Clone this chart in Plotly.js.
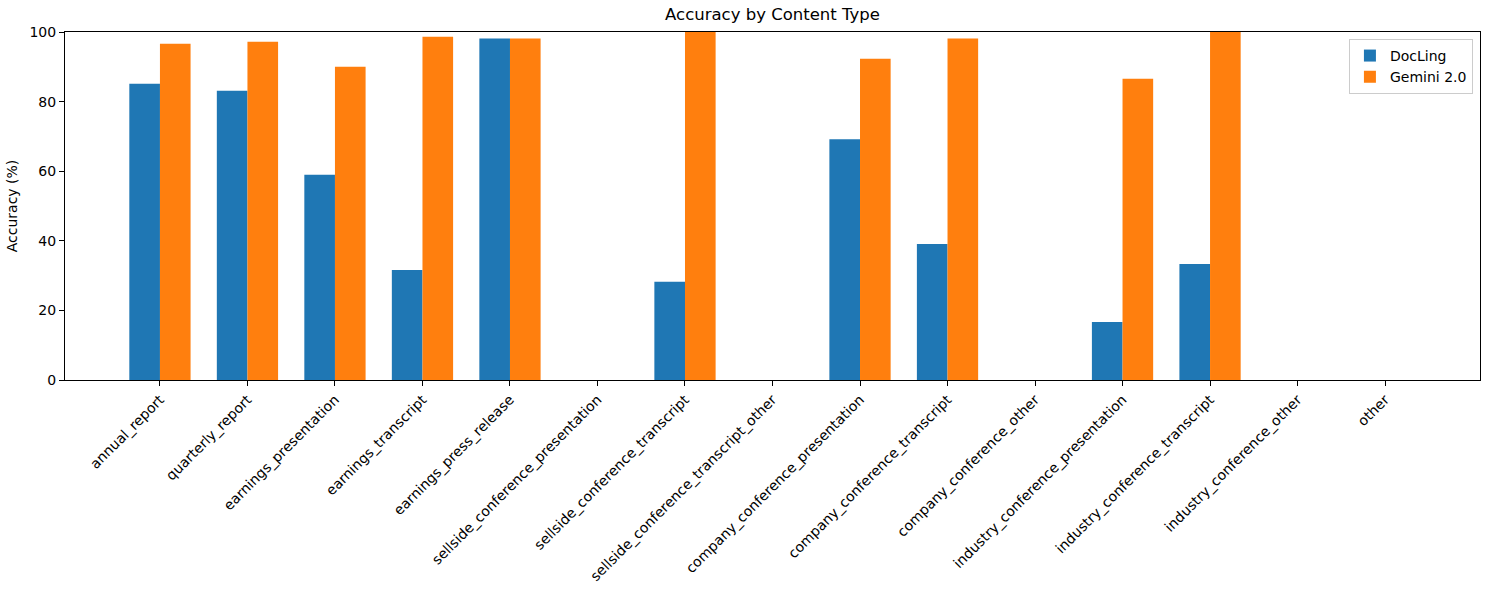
<!DOCTYPE html>
<html>
<head>
<meta charset="utf-8">
<script src="https://cdn.plot.ly/plotly-3.0.1.min.js"></script>
<style>
  html, body { margin: 0; padding: 0; background: #fff; }
  #chart { width: 1490px; height: 590px; }
</style>
</head>
<body>
<div id="chart"></div>
<script>
var contentTypes = [
  'annual_report', 'quarterly_report', 'earnings_presentation', 'earnings_transcript',
  'earnings_press_release', 'sellside_conference_presentation', 'sellside_conference_transcript',
  'sellside_conference_transcript_other', 'company_conference_presentation',
  'company_conference_transcript', 'company_conference_other', 'industry_conference_presentation',
  'industry_conference_transcript', 'industry_conference_other', 'other'
];
var doclingAcc = [85.1, 83.1, 59.0, 31.6, 98.1, 0, 28.2, 0, 69.2, 39.1, 0, 16.7, 33.3, 0, 0];
var geminiAcc = [96.6, 97.2, 90.0, 98.6, 98.1, 0, 100, 0, 92.3, 98.1, 0, 86.6, 100, 0, 0];

var data = [
  {
    x: contentTypes,
    y: doclingAcc,
    name: 'DocLing',
    type: 'bar',
    marker: { color: '#1f77b4', line: { width: 0 } }
  },
  {
    x: contentTypes,
    y: geminiAcc,
    name: 'Gemini 2.0',
    type: 'bar',
    marker: { color: '#ff7f0e', line: { width: 0 } }
  }
];

var layout = {
  width: 1490,
  height: 590,
  margin: { l: 65, r: 10, t: 32, b: 210 },
  paper_bgcolor: 'white',
  plot_bgcolor: 'white',
  font: { family: 'DejaVu Sans, sans-serif', size: 14, color: '#000' },
  title: {
    text: 'Accuracy by Content Type',
    font: { size: 16.5 },
    x: 0.5,
    xref: 'paper',
    xanchor: 'center',
    y: 1,
    yref: 'container',
    yanchor: 'top',
    pad: { t: 8 }
  },
  barmode: 'group',
  bargap: 0.3,
  bargroupgap: 0,
  showlegend: true,
  legend: {
    x: 0.995,
    xanchor: 'right',
    y: 0.98,
    yanchor: 'top',
    bordercolor: '#cccccc',
    borderwidth: 1,
    bgcolor: 'rgba(255,255,255,0.8)',
    font: { size: 14 },
    itemwidth: 30
  },
  xaxis: {
    type: 'category',
    range: [-1.085, 15.085],
    tickangle: -45,
    ticks: 'outside',
    ticklen: 5,
    tickcolor: '#000',
    showline: true,
    mirror: true,
    linecolor: '#000',
    linewidth: 1,
    showgrid: false,
    zeroline: false,
    tickfont: { size: 14 }
  },
  yaxis: {
    title: { text: 'Accuracy (%)', font: { size: 14 }, standoff: 8 },
    range: [0, 100],
    tickvals: [0, 20, 40, 60, 80, 100],
    ticks: 'outside',
    ticklen: 5,
    tickcolor: '#000',
    showline: true,
    mirror: true,
    linecolor: '#000',
    linewidth: 1,
    showgrid: false,
    zeroline: false,
    tickfont: { size: 14 }
  }
};

Plotly.newPlot('chart', data, layout, { displayModeBar: false });
</script>
</body>
</html>
